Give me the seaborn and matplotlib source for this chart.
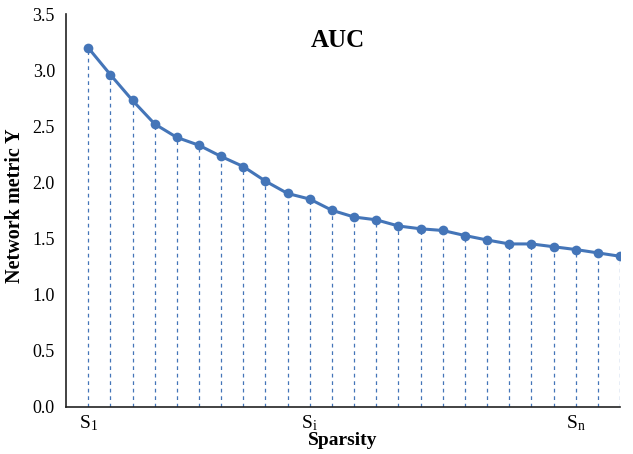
import matplotlib
matplotlib.use("Agg")
import matplotlib.pyplot as plt
import seaborn as sns
import pandas as pd
import numpy as np

# Data
index = list(range(25))
values = [3.20, 2.96, 2.73, 2.52, 2.40, 2.33, 2.23, 2.14, 2.01, 1.90,
          1.85, 1.75, 1.69, 1.665, 1.61, 1.585, 1.57, 1.525, 1.485, 1.45,
          1.45, 1.425, 1.40, 1.37, 1.34]
tick_positions = [0, 10, 22]
tick_labels = [r"S$_{\mathrm{1}}$", r"S$_{\mathrm{i}}$", r"S$_{\mathrm{n}}$"]
yticks = [0.0, 0.5, 1.0, 1.5, 2.0, 2.5, 3.0, 3.5]

sns.set_style("white")
plt.rcParams["font.family"] = ["Liberation Serif", "DejaVu Serif"]
plt.rcParams["mathtext.fontset"] = "custom"
plt.rcParams["mathtext.rm"] = "Liberation Serif"
plt.rcParams["mathtext.it"] = "Liberation Serif:italic"
plt.rcParams["mathtext.bf"] = "Liberation Serif:bold"
plt.rcParams["text.color"] = "black"
plt.rcParams["axes.labelcolor"] = "black"
plt.rcParams["xtick.color"] = "black"
plt.rcParams["ytick.color"] = "black"

color = "#4475B8"
df = pd.DataFrame({"x": index, "y": values})

fig = plt.figure(figsize=(6.33, 4.54), dpi=100)
ax = fig.add_axes([0.1043, 0.1046, 0.8752, 0.8644])

ax.vlines(df["x"], 0, df["y"], colors=color, linestyles=(0, (3, 3)), linewidth=0.9, zorder=1)
sns.lineplot(data=df, x="x", y="y", ax=ax, color=color, linewidth=2.2,
             marker="o", markersize=7, markeredgewidth=0, zorder=3)

ax.set_xlim(-1.0, 24.0)
ax.set_ylim(0, 3.5)
ax.set_yticks(yticks)
ax.set_yticklabels([f"{v:.1f}" for v in yticks], fontsize=13)
ax.set_xticks(tick_positions)
ax.set_xticklabels(tick_labels, fontsize=14)

ax.tick_params(axis="y", direction="in", length=4, width=1, color="#222222", pad=8)
ax.tick_params(axis="x", length=0, pad=5)

for s in ["top", "right"]:
    ax.spines[s].set_visible(False)
for s in ["left", "bottom"]:
    ax.spines[s].set_color("#222222")
    ax.spines[s].set_linewidth(1.2)

ax.set_xlabel("Sparsity", fontsize=14, fontweight="bold", labelpad=-1)
ax.set_ylabel("Network metric Y", fontsize=14.5, fontweight="bold")
ax.yaxis.set_label_coords(-0.074, 0.512)
ax.text(0.49, 0.932, "AUC", transform=ax.transAxes, ha="center", va="center",
        fontsize=18, fontweight="bold")

fig.savefig("out.png", dpi=100)
